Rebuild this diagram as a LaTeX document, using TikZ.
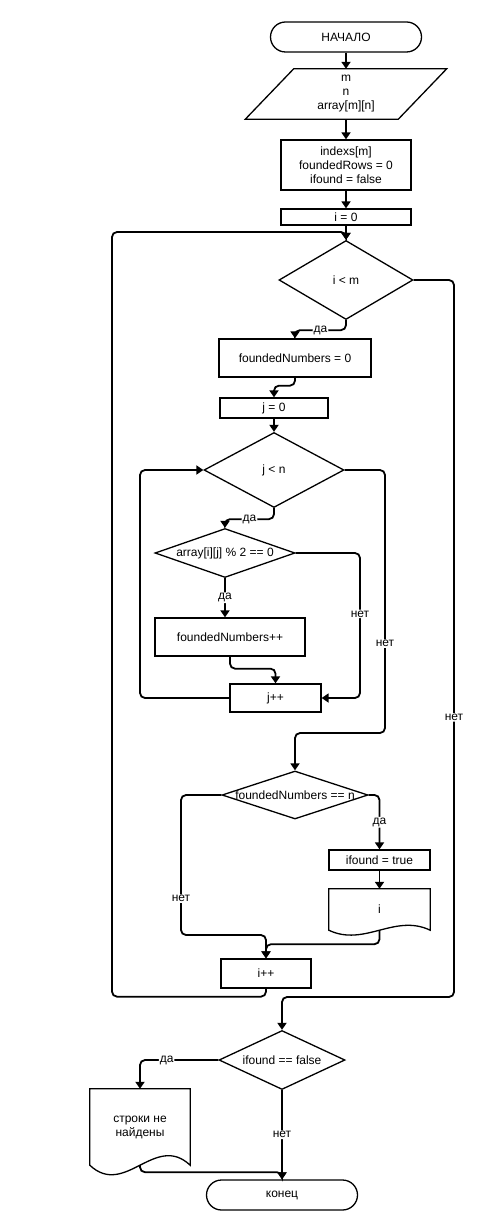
\documentclass[tikz,border=0pt]{standalone}
\usepackage{fontspec}
\setmainfont{Liberation Sans}
\usetikzlibrary{shapes.geometric,arrows.meta,calc}

% document shape with wavy bottom
\newcommand{\docshape}[2]{%
  \draw[shape line] (#1.south west) -- (#1.north west) -- (#1.north east) -- (#1.south east)
    .. controls ($(#1.south east)!0.35!(#1.south west)+(0,-#2)$) and ($(#1.south west)!0.35!(#1.south east)+(0,#2)$) .. (#1.south west) -- cycle;}

\begin{document}
\begin{tikzpicture}[x=1pt,y=-1pt,font=\fontsize{12}{14}\selectfont]
\tikzstyle{arrow} = [-{Triangle[width=9pt,length=7pt]},line width=1.8pt,rounded corners=5pt]
\tikzstyle{shape line} = [line width=1.3pt]
\tikzstyle{terminal} = [draw,shape line,rectangle,rounded corners=15pt,minimum width=151,minimum height=30,inner sep=0pt]
\tikzstyle{process} = [draw,shape line,rectangle,inner sep=0pt,align=center]
\tikzstyle{decision} = [draw,shape line,diamond,inner sep=0pt]
\tikzstyle{io} = [rectangle,inner sep=0pt,align=center,minimum width=201,minimum height=50]
\tikzstyle{doc} = [rectangle,inner sep=0pt,align=center]
\tikzstyle{lbl} = [fill=white,inner sep=1pt]

\useasboundingbox (0,0) rectangle (484,1230);

% nodes
\node[terminal] (A) at (346,37) {НАЧАЛО};
\node[io] (B) at (346,94) {m\\n\\array[m][n]};
\node[process,minimum width=130,minimum height=50] (C) at (346,165) {indexs[m]\\foundedRows = 0\\ifound = false};
\node[process,minimum width=130,minimum height=16] (D) at (346,217) {i = 0};
\node[decision,minimum width=134,minimum height=79,label=center:{i < m}] (E) at (346,280) {};
\node[process,minimum width=152,minimum height=38] (F) at (295,358) {foundedNumbers = 0};
\node[process,minimum width=108,minimum height=20] (G) at (274,408) {j = 0};
\node[decision,minimum width=140,minimum height=75,label=center:{j < n}] (H) at (274,470) {};
\node[decision,minimum width=140,minimum height=49,label=center:{array[i][j] \% 2 == 0}] (I) at (225,553) {};
\node[process,minimum width=150,minimum height=38] (J) at (230,637) {foundedNumbers++};
\node[process,minimum width=91,minimum height=28] (K) at (275.5,698) {j++};
\node[decision,minimum width=146,minimum height=48,label=center:{foundedNumbers == n}] (L) at (295,795) {};
\node[process,minimum width=101,minimum height=20] (M) at (379.5,860) {ifound = true};
\node[doc,minimum width=101,minimum height=41] (N) at (379.5,909.5) {i};
\node[process,minimum width=90,minimum height=29] (O) at (266,973.5) {i++};
\node[decision,minimum width=126,minimum height=59,label=center:{ifound == false}] (P) at (282,1060) {};
\node[doc,minimum width=100,minimum height=76] (Q) at (140,1127) {строки не\\найдены};
\node[terminal] (R) at (282,1195) {конец};

% shapes
\draw[shape line] (B.south west) -- ++(153,0) -- (B.north east) -- ++(-153,0) -- cycle;
\docshape{N}{17}
\docshape{Q}{33}

% arrows
\draw[arrow] (A) -- (B);
\draw[arrow] (B) -- (C);
\draw[arrow] (C) -- (D);
\draw[arrow] (D) -- (E);
\draw[arrow] (E.east) -- (454,280) -- node[lbl,pos=0.61] {нет} (454,997) -| (P.north);
\draw[arrow] (E.south) -- ++(0,10) -| node[lbl,pos=0.25] {да} (F.north);
\draw[arrow] (F.south) -- ++(0,8) -| (G.north);
\draw[arrow] (G) -- (H);
\draw[arrow] (H.south) -- ++(0,11) -| node[lbl,pos=0.25] {да} (I.north);
\draw[arrow] (H.east) -- (385,470) -- node[lbl,pos=0.66] {нет} (385,733) -| (L.north);
\draw[arrow] (I.south) -- node[lbl] {да} (I.south |- J.north);
\draw[arrow] (I.east) -- (360,553) -- node[lbl,pos=0.42] {нет} (360,698) -- (K.east);
\draw[arrow] (J.south) -- ++(0,12) -| (K.north);
\draw[arrow] (K.west) -- (140,698) |- (H.west);
\draw[arrow] (L.east) -| node[lbl,pos=0.75] {да} (M.north);
\draw[arrow] (L.west) -- (181,795) -- node[lbl,pos=0.74] {нет} (181,935) -| (O.north);
\draw[arrow] (M) -- (N);
\draw[arrow] (N.south) -- ++(0,14) -| (O.north);
\draw[arrow] (O.south) -- ++(0,8) -| (112,232) -| (E.north);
\draw[arrow] (P.west) -| node[lbl,pos=0.33] {да} (Q.north);
\draw[arrow] (P.south) -- node[lbl] {нет} (R.north);
\draw[arrow] (Q.south) -- ++(0,7) -| (R.north);

\end{tikzpicture}
\end{document}
